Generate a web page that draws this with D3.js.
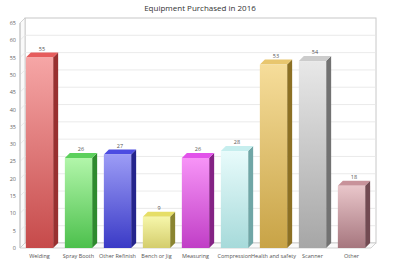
<!DOCTYPE html>
<html>
<head>
<meta charset="utf-8">
<script src="https://cdn.jsdelivr.net/npm/d3@7"></script>
<style>
  body { margin: 0; background: #fff; }
  svg { display: block; font-family: "Open Sans", "DejaVu Sans", sans-serif; }
</style>
</head>
<body>
<svg id="chart" width="400" height="267"></svg>
<script>
// chart data
var categories = ["Welding", "Spray Booth", "Other Refinish", "Bench or Jig", "Measuring",
                  "Compression", "Health and safety", "Scanner", "Other"];
var values = [55, 26, 27, 9, 26, 28, 53, 54, 18];
var yTicks = [0, 5, 10, 15, 20, 25, 30, 35, 40, 45, 50, 55, 60, 65];
var lightColors = ["#f6a6a6", "#b2f6aa", "#9c9cf6", "#f6f6aa", "#f794f7", "#e8fbfb", "#f6dd9a", "#e8e8e8", "#e9c6ca"];
var darkColors  = ["#c64a4a", "#4cc04c", "#3a3ac6", "#d4cd6c", "#c03ec6", "#a6dada", "#c8a346", "#a6a6a6", "#a6767e"];
var topColors   = ["#e65c5c", "#5cd05c", "#4c4ce2", "#e6de66", "#e252ea", "#c6eeee", "#e8c66e", "#cccccc", "#c8929a"];
var sideColors  = ["#983030", "#2e8a2e", "#24248c", "#8a8430", "#842284", "#70a6a6", "#8c7024", "#727272", "#724a52"];

var svg = d3.select("#chart");

// 3d depth offsets
var dx = 5, dy = 5;
var plotLeft = 20, plotRight = 371, plotBottom = 248, plotTop = 23;

var y = d3.scaleLinear().domain([0, 65]).range([plotBottom, plotTop]);
var x = d3.scaleBand()
	.domain(categories)
	.range([plotLeft, plotRight])
	.paddingInner(0.3)
	.paddingOuter(0.15);

// title
svg.append("text")
	.attr("x", 200).attr("y", 11)
	.attr("text-anchor", "middle")
	.attr("font-size", "8px")
	.attr("fill", "#333")
	.text("Equipment Purchased in 2016");

// back wall
svg.append("rect")
	.attr("x", plotLeft + dx).attr("y", plotTop - dy)
	.attr("width", plotRight - plotLeft).attr("height", plotBottom - plotTop)
	.attr("fill", "#fff")
	.attr("stroke", "#c8c8c8")
	.attr("stroke-width", 1);

// side wall + floor
svg.append("path")
	.attr("d", "M" + plotLeft + "," + plotTop + "L" + (plotLeft + dx) + "," + (plotTop - dy) +
		"L" + (plotLeft + dx) + "," + (plotBottom - dy) + "L" + plotLeft + "," + plotBottom + "Z")
	.attr("fill", "#fafafa").attr("stroke", "#c8c8c8").attr("stroke-width", 0.8);
svg.append("path")
	.attr("d", "M" + plotLeft + "," + plotBottom + "L" + (plotLeft + dx) + "," + (plotBottom - dy) +
		"L" + (plotRight + dx) + "," + (plotBottom - dy) + "L" + plotRight + "," + plotBottom + "Z")
	.attr("fill", "#fafafa").attr("stroke", "#c8c8c8").attr("stroke-width", 0.8);

// gridlines on back wall and left wall
svg.selectAll(".grid")
	.data(yTicks.filter(function(d){ return d > 0 && d < 65; }))
	.enter().append("path")
	.attr("class", "grid")
	.attr("d", function(d){
		return "M" + plotLeft + "," + y(d) + "L" + (plotLeft + dx) + "," + (y(d) - dy) +
			"L" + (plotRight + dx) + "," + (y(d) - dy);
	})
	.attr("fill", "none")
	.attr("stroke", "#e4e4e4")
	.attr("stroke-width", 0.8);

// y axis labels
svg.selectAll(".ylab")
	.data(yTicks)
	.enter().append("text")
	.attr("class", "ylab")
	.attr("x", plotLeft - 4)
	.attr("y", function(d){ return y(d) + 2; })
	.attr("text-anchor", "end")
	.attr("font-size", "5.5px")
	.attr("fill", "#666")
	.text(function(d){ return d; });

svg.append("line")
	.attr("x1", plotLeft).attr("x2", plotLeft)
	.attr("y1", plotTop).attr("y2", plotBottom)
	.attr("stroke", "#bbb").attr("stroke-width", 0.8);

// gradients
var defs = svg.append("defs");
categories.forEach(function(c, i){
	var g = defs.append("linearGradient")
		.attr("id", "grad" + i)
		.attr("x1", 0).attr("y1", 0).attr("x2", 0).attr("y2", 1);
	g.append("stop").attr("offset", "0%").attr("stop-color", lightColors[i]);
	g.append("stop").attr("offset", "100%").attr("stop-color", darkColors[i]);
});

var data = categories.map(function(c, i){ return {cat: c, val: values[i], i: i}; });
var bw = x.bandwidth();

var bars = svg.selectAll(".bar")
	.data(data)
	.enter().append("g")
	.attr("class", "bar");

// side face
bars.append("path")
	.attr("d", function(d){
		var x0 = x(d.cat) + bw, yv = y(d.val);
		return "M" + x0 + "," + yv + "L" + (x0 + dx) + "," + (yv - dy) +
			"L" + (x0 + dx) + "," + (plotBottom - dy) + "L" + x0 + "," + plotBottom + "Z";
	})
	.attr("fill", function(d){ return sideColors[d.i]; });

// top face
bars.append("path")
	.attr("d", function(d){
		var x0 = x(d.cat), yv = y(d.val);
		return "M" + x0 + "," + yv + "L" + (x0 + dx) + "," + (yv - dy) +
			"L" + (x0 + bw + dx) + "," + (yv - dy) + "L" + (x0 + bw) + "," + yv + "Z";
	})
	.attr("fill", function(d){ return topColors[d.i]; });

// front face
bars.append("rect")
	.attr("x", function(d){ return x(d.cat); })
	.attr("y", function(d){ return y(d.val); })
	.attr("width", bw)
	.attr("height", function(d){ return plotBottom - y(d.val); })
	.attr("fill", function(d){ return "url(#grad" + d.i + ")"; });

// value labels
bars.append("text")
	.attr("x", function(d){ return x(d.cat) + (bw + dx) / 2; })
	.attr("y", function(d){ return y(d.val) - dy - 2; })
	.attr("text-anchor", "middle")
	.attr("font-size", "5.5px")
	.attr("fill", "#555")
	.text(function(d){ return d.val; });

// category labels
svg.selectAll(".xlab")
	.data(categories)
	.enter().append("text")
	.attr("class", "xlab")
	.attr("x", function(d){ return x(d) + bw / 2; })
	.attr("y", 258)
	.attr("text-anchor", "middle")
	.attr("font-size", "5.5px")
	.attr("fill", "#555")
	.text(function(d){ return d; });
</script>
</body>
</html>
